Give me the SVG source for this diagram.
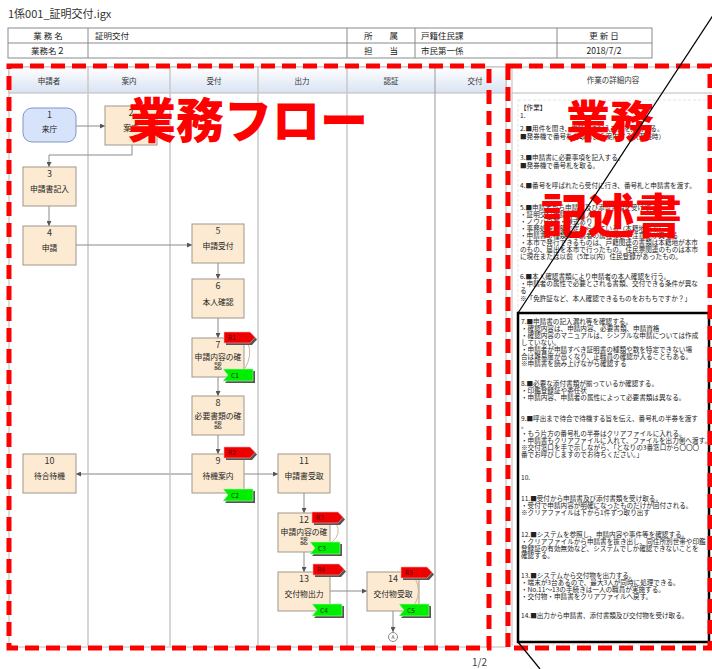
<svg xmlns="http://www.w3.org/2000/svg" width="712" height="669" viewBox="0 0 712 669">
<style>
text{font-family:"Noto Sans CJK JP","Noto Sans",sans-serif;fill:#222}
.t{font-size:8.5px}
.lh{font-size:7.5px;text-anchor:middle;fill:#333}
.nn{font-size:9px;text-anchor:middle;fill:#333}
.nl{font-size:7.8px;text-anchor:middle;fill:#222}
.node{fill:#fcebd2;stroke:#a0978a;stroke-width:1}
.con{fill:none;stroke:#8a8a8a;stroke-width:1}
.lane{stroke:#c9c9c9;stroke-width:1.5}
.big{font-weight:900;fill:#ff0000}
.rt{font-size:6.6px;fill:#222}
.fl{font-size:6.5px;fill:#5a0000}
.fg{font-size:6.5px;fill:#003300}
.brace{fill:none;stroke:#c9b799;stroke-width:1}
.rd{fill:none;stroke:#ff0000;stroke-width:5;stroke-dasharray:14 7}
</style>
<defs>
<linearGradient id="hg" x1="0" y1="0" x2="0" y2="1">
<stop offset="0" stop-color="#ffffff"/>
<stop offset="1" stop-color="#d9e3f2"/>
</linearGradient>
<marker id="ar" viewBox="0 0 6 6" refX="6" refY="3" markerWidth="5" markerHeight="5" markerUnits="userSpaceOnUse" orient="auto">
<path d="M0,0 L6,3 L0,6 z" fill="#555"/>
</marker>
<g id="flagR">
<polygon points="2,2 28,2 33,7.5 28,13 2,13" fill="#555"/>
<polygon points="0,0 26,0 31,5.5 26,11 0,11" fill="#ee0000" stroke="#ffaaaa" stroke-width="0.6"/>
</g>
<g id="flagC">
<polygon points="2,2 32,2 32,14 2,14 7,8" fill="#555"/>
<polygon points="0,0 30,0 30,12 0,12 5,6" fill="#00ee00" stroke="#aaffaa" stroke-width="0.6"/>
</g>
</defs>
<rect width="712" height="669" fill="#ffffff"/>

<g id="title">
<text x="8" y="18" style="font-size:11px;fill:#333">1係001_証明交付.igx</text>
</g>

<g id="header-table">
<rect x="8" y="28" width="644" height="30" fill="#fff" stroke="#8a8a8a" stroke-width="1"/>
<line x1="8" y1="43" x2="652" y2="43" stroke="#8a8a8a"/>
<line x1="88" y1="28" x2="88" y2="58" stroke="#8a8a8a"/>
<line x1="347" y1="28" x2="347" y2="58" stroke="#8a8a8a"/>
<line x1="415" y1="28" x2="415" y2="58" stroke="#8a8a8a"/>
<line x1="557" y1="28" x2="557" y2="58" stroke="#8a8a8a"/>
<text x="48" y="39" class="t" text-anchor="middle">業 務 名</text>
<text x="48" y="54" class="t" text-anchor="middle">業務名２</text>
<text x="95" y="39" class="t">証明交付</text>
<text x="381" y="39" class="t" text-anchor="middle">所　　属</text>
<text x="381" y="54" class="t" text-anchor="middle">担　　当</text>
<text x="421" y="39" class="t">戸籍住民課</text>
<text x="421" y="54" class="t">市民第一係</text>
<text x="604" y="39" class="t" text-anchor="middle">更 新 日</text>
<text x="604" y="54" class="t" text-anchor="middle">2018/7/2</text>
</g>

<g id="swimlanes">
<rect x="9" y="67" width="497" height="580" fill="#fff" stroke="#bbb" stroke-width="1"/>
<rect x="9" y="67" width="497" height="26" fill="url(#hg)" stroke="#bbb" stroke-width="1"/>
<line x1="88" y1="67" x2="88" y2="646" class="lane"/>
<line x1="170" y1="67" x2="170" y2="646" class="lane"/>
<line x1="258" y1="67" x2="258" y2="646" class="lane"/>
<line x1="347" y1="67" x2="347" y2="646" class="lane"/>
<line x1="435" y1="67" x2="435" y2="646" stroke="#9a9a9a" stroke-width="1"/>
<text x="49" y="84" class="lh">申請者</text>
<text x="129" y="84" class="lh">案内</text>
<text x="214" y="84" class="lh">受付</text>
<text x="302" y="84" class="lh">出力</text>
<text x="391" y="84" class="lh">認証</text>
<text x="475" y="84" class="lh">交付</text>
</g>

<g id="connectors">
<line x1="76" y1="126" x2="105" y2="126" class="con" marker-end="url(#ar)"/>
<polyline points="132,145 132,155 49,155 49,167" class="con" marker-end="url(#ar)"/>
<line x1="49" y1="206" x2="49" y2="226" class="con" marker-end="url(#ar)"/>
<line x1="76" y1="245" x2="192" y2="245" class="con" marker-end="url(#ar)"/>
<line x1="218" y1="262" x2="218" y2="279" class="con" marker-end="url(#ar)"/>
<line x1="218" y1="318" x2="218" y2="338" class="con" marker-end="url(#ar)"/>
<line x1="218" y1="377" x2="218" y2="396" class="con" marker-end="url(#ar)"/>
<line x1="218" y1="435" x2="218" y2="454" class="con" marker-end="url(#ar)"/>
<line x1="192" y1="474" x2="76" y2="474" fill="none" stroke="#c0c0c0" stroke-width="2" marker-end="url(#ar)"/>
<line x1="244" y1="474" x2="278" y2="474" class="con" marker-end="url(#ar)"/>
<line x1="304" y1="493" x2="304" y2="513" class="con" marker-end="url(#ar)"/>
<line x1="304" y1="552" x2="304" y2="572" class="con" marker-end="url(#ar)"/>
<line x1="330" y1="591" x2="367" y2="591" class="con" marker-end="url(#ar)"/>
<line x1="393" y1="611" x2="393" y2="632" class="con" marker-end="url(#ar)"/>
</g>

<g id="n1">
<rect x="23" y="108" width="53" height="34" rx="9" fill="#d7e3fa" stroke="#7f97c4" stroke-width="1"/>
<text x="49.5" y="118" class="nn">1</text>
<text x="49.5" y="132" class="nl">来庁</text>
</g>
<g id="n2">
<rect x="105" y="106" width="52" height="39" class="node"/>
<text x="131" y="116" class="nn">2</text>
<text x="131" y="131" class="nl">案内</text>
</g>
<g id="n3">
<rect x="23" y="167" width="53" height="39" class="node"/>
<text x="49.5" y="177" class="nn">3</text>
<text x="49.5" y="192" class="nl">申請書記入</text>
</g>
<g id="n4">
<rect x="23" y="226" width="53" height="39" class="node"/>
<text x="49.5" y="236" class="nn">4</text>
<text x="49.5" y="251" class="nl">申請</text>
</g>
<g id="n5">
<rect x="192" y="224" width="52" height="39" class="node"/>
<text x="218" y="234" class="nn">5</text>
<text x="218" y="249" class="nl">申請受付</text>
</g>
<g id="n6">
<rect x="192" y="279" width="52" height="39" class="node"/>
<text x="218" y="289" class="nn">6</text>
<text x="218" y="305" class="nl">本人確認</text>
</g>
<g id="n7">
<rect x="192" y="338" width="52" height="39" class="node"/>
<text x="218" y="348" class="nn">7</text>
<text x="218" y="360" class="nl">申請内容の確</text>
<text x="218" y="369" class="nl">認</text>
<path d="M248,343 Q253,356 244,370" class="brace"/>
<use href="#flagR" x="224" y="332"/>
<text x="228" y="340" class="fl">R1</text>
<use href="#flagC" x="223" y="369"/>
<text x="231" y="378" class="fg">C1</text>
</g>
<g id="n8">
<rect x="192" y="396" width="52" height="39" class="node"/>
<text x="218" y="406" class="nn">8</text>
<text x="218" y="419" class="nl">必要書類の確</text>
<text x="218" y="428" class="nl">認</text>
</g>
<g id="n9">
<rect x="192" y="454" width="52" height="39" class="node"/>
<text x="218" y="464" class="nn">9</text>
<text x="218" y="479" class="nl">待機案内</text>
<use href="#flagR" x="224" y="447"/>
<text x="228" y="455" class="fl">R2</text>
<use href="#flagC" x="223" y="489"/>
<text x="231" y="498" class="fg">C2</text>
</g>
<g id="n10">
<rect x="23" y="454" width="53" height="39" class="node"/>
<text x="49.5" y="464" class="nn">10</text>
<text x="49.5" y="479" class="nl">待合待機</text>
</g>
<g id="n11">
<rect x="278" y="454" width="52" height="39" class="node"/>
<text x="304" y="464" class="nn">11</text>
<text x="304" y="479" class="nl">申請書受取</text>
</g>
<g id="n12">
<rect x="278" y="513" width="52" height="39" class="node"/>
<text x="304" y="523" class="nn">12</text>
<text x="304" y="535" class="nl">申請内容の確</text>
<text x="304" y="544" class="nl">認</text>
<path d="M336,523 Q342,534 332,542" class="brace"/>
<use href="#flagR" x="312" y="512"/>
<text x="316" y="520" class="fl">R3</text>
<use href="#flagC" x="310" y="542"/>
<text x="318" y="551" class="fg">C3</text>
</g>
<g id="n13">
<rect x="278" y="572" width="52" height="39" class="node"/>
<text x="304" y="582" class="nn">13</text>
<text x="304" y="597" class="nl">交付物出力</text>
<use href="#flagR" x="313" y="564"/>
<text x="317" y="572" class="fl">R4</text>
<use href="#flagC" x="312" y="604"/>
<text x="320" y="613" class="fg">C4</text>
</g>
<g id="n14">
<rect x="367" y="572" width="52" height="39" class="node"/>
<text x="393" y="582" class="nn">14</text>
<text x="393" y="597" class="nl">交付物受取</text>
<path d="M415,578 Q422,591 415,604" class="brace"/>
<use href="#flagR" x="401" y="567"/>
<text x="405" y="575" class="fl">R5</text>
<use href="#flagC" x="399" y="604"/>
<text x="407" y="613" class="fg">C5</text>
</g>
<g id="connA">
<circle cx="393" cy="637" r="4.5" fill="#fff" stroke="#8a8a8a" stroke-width="1"/>
<text x="393" y="639" style="font-size:5px;text-anchor:middle;fill:#555">A</text>
</g>

<g id="detail-panel">
<rect x="512" y="67" width="204" height="26" fill="#fff" stroke="#bbb" stroke-width="1"/>
<line x1="512" y1="93" x2="512" y2="646" stroke="#bbb" stroke-width="1"/>
<text x="613" y="83" class="lh">作業の詳細内容</text>
<rect x="518" y="100" width="191" height="545" fill="none" stroke="#ddd" stroke-width="0.8" stroke-dasharray="3 2"/>
<text class="rt">
<tspan x="520" y="110">【作業】</tspan>
<tspan x="520" y="118">1.</tspan>
<tspan x="520" y="131">2.■用件を聞き、申請書の記入方法を案内する。</tspan>
<tspan x="520" y="139">■発券機で番号札を取るよう案内する（混雑時）</tspan>
<tspan x="520" y="160">3.■申請書に必要事項を記入する。</tspan>
<tspan x="520" y="168">■発券機で番号札を取る。</tspan>
<tspan x="520" y="188">4.■番号を呼ばれたら受付に行き、番号札と申請書を渡す。</tspan>
<tspan x="520" y="210">5.■申請者から申請書及び添付書類を受け取る。</tspan>
<tspan x="520" y="217">・証明交付申請書等（人）</tspan>
<tspan x="520" y="224">・ノウハウ有・様式あり</tspan>
<tspan x="520" y="231">・事務処理要領で定められている（本籍地のみ）</tspan>
<tspan x="520" y="238">・申請書の種類、申請者の属性などで注意点が異なる</tspan>
<tspan x="520" y="245">・本市で発行できるものは、戸籍関連の書類は本籍地が本市</tspan>
<tspan x="520" y="252">のもの、届出を本市で行ったもの。住民票関連のものは本市</tspan>
<tspan x="520" y="259">に現在または以前（5年以内）住民登録があったもの。</tspan>
<tspan x="520" y="279">6.■本人確認書類により申請者の本人確認を行う。</tspan>
<tspan x="520" y="286">・申請者の属性で必要とされる書類、交付できる条件が異な</tspan>
<tspan x="520" y="293">る</tspan>
<tspan x="520" y="301">※「免許証など、本人確認できるものをおもちですか？」</tspan>
<tspan x="521" y="324">7.■申請書の記入漏れ等を確認する。</tspan>
<tspan x="521" y="331">・確認内容は、申請内容、必要書類、申請資格</tspan>
<tspan x="521" y="338">・確認内容のマニュアルは、シンプルな申請については作成</tspan>
<tspan x="521" y="345">していない。</tspan>
<tspan x="521" y="352">・申請者が申請すべき証明書の種類や数を特定できない場</tspan>
<tspan x="521" y="359">合は難易度が高くなり、正職員の確認が入ることもある。</tspan>
<tspan x="521" y="366">※申請書を読み上げながら確認する</tspan>
<tspan x="521" y="386">8.■必要な添付書類が揃っているか確認する。</tspan>
<tspan x="521" y="393">・印鑑登録証や委任状</tspan>
<tspan x="521" y="400">・申請内容、申請者の属性によって必要書類は異なる。</tspan>
<tspan x="521" y="421">9.■呼出まで待合で待機する旨を伝え、番号札の半券を渡す</tspan>
<tspan x="521" y="428">。</tspan>
<tspan x="521" y="436">・もう片方の番号札の半券はクリアファイルに入れる。</tspan>
<tspan x="521" y="443">・申請書もクリアファイルに入れて、ファイルを出力側へ渡す。</tspan>
<tspan x="521" y="450">※交付窓口を手で示しながら、「となりの3番窓口から〇〇〇</tspan>
<tspan x="521" y="457">番でお呼びしますのでお待ちください。」</tspan>
<tspan x="521" y="480">10.</tspan>
<tspan x="521" y="501">11.■受付から申請書及び添付書類を受け取る。</tspan>
<tspan x="521" y="508">・受付で申請内容が明確になったものだけが回付される。</tspan>
<tspan x="521" y="515">※クリアファイルは下から1件ずつ取り出す</tspan>
<tspan x="521" y="537">12.■システムを参照し、申請内容や事件等を確認する。</tspan>
<tspan x="521" y="544">・クリアファイルから申請書を抜き出し、同住所別世帯や印鑑</tspan>
<tspan x="521" y="551">登録証の有効無効など、システムでしか確認できないことを</tspan>
<tspan x="521" y="558">確認する。</tspan>
<tspan x="521" y="578">13.■システムから交付物を出力する。</tspan>
<tspan x="521" y="585">・端末が3台あるので、最大3人が同時に処理できる。</tspan>
<tspan x="521" y="592">・No.11～13の手続きは一人の職員が実施する。</tspan>
<tspan x="521" y="599">・交付物・申請書をクリアファイルへ戻す。</tspan>
<tspan x="521" y="618">14.■出力から申請書、添付書類及び交付物を受け取る。</tspan>
</text>
<rect x="518" y="313" width="191" height="329" fill="none" stroke="#000" stroke-width="2.5"/>
</g>

<g id="annotations">
<rect x="9" y="66" width="480" height="582" class="rd"/>
<rect x="508" y="66" width="202" height="582" class="rd"/>
<text x="128" y="138" class="big" style="font-size:48px">業務フロー</text>
<text x="566" y="138" class="big" style="font-size:44px">業務</text>
<text x="541" y="233" class="big" style="font-size:47px">記述書</text>
<line x1="723" y1="0" x2="518" y2="313" stroke="#000" stroke-width="1.2"/>
<line x1="518" y1="642" x2="540" y2="669" stroke="#000" stroke-width="1.2"/>
</g>

<g id="page">
<text x="472" y="666" style="font-size:10px;fill:#444">1/2</text>
</g>
</svg>
